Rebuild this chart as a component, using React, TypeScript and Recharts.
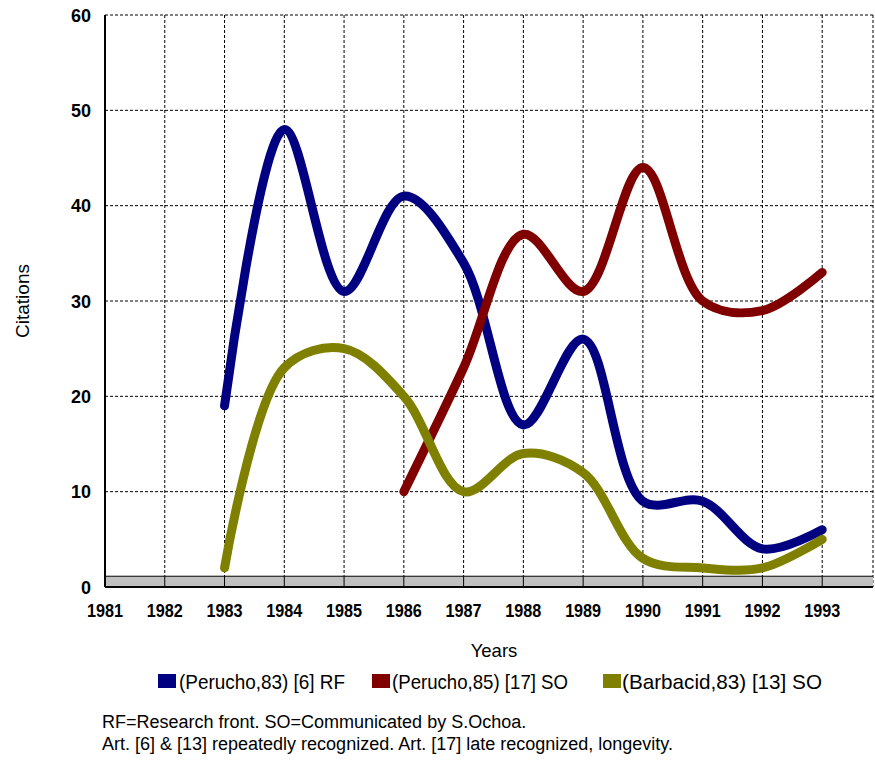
import React from 'react';
import {
  LineChart,
  Line,
  XAxis,
  YAxis,
  CartesianGrid,
  Legend,
  ReferenceArea,
  ReferenceLine,
} from 'recharts';

// ---- data ----
const years = [1981, 1982, 1983, 1984, 1985, 1986, 1987, 1988, 1989, 1990, 1991, 1992, 1993];
const perucho83 = [null, null, 19, 48, 31, 41, 34, 17, 26, 9, 9, 4, 6];
const perucho85 = [null, null, null, null, null, 10, 23, 37, 31, 44, 30, 29, 33];
const barbacid83 = [null, null, 2, 23, 25, 20, 10, 14, 12, 3, 2, 2, 5];
const yTicks = [0, 10, 20, 30, 40, 50, 60];
const seriesKeys = ['p83', 'p85', 'b83'];
const seriesNames = ['(Perucho,83) [6] RF', '(Perucho,85) [17] SO', '(Barbacid,83) [13] SO'];
const seriesColors = ['#000080', '#800000', '#808000'];
const noteLines = [
  'RF=Research front. SO=Communicated by S.Ochoa.',
  'Art. [6] & [13] repeatedly recognized. Art. [17] late recognized, longevity.',
];
const floorTop = 1.13;

const data = years.map((year, i) => ({
  year,
  p83: perucho83[i],
  p85: perucho85[i],
  b83: barbacid83[i],
}));

const FONT = '"Liberation Sans", Arial, Helvetica, sans-serif';

// Smoothed line: centripetal Catmull-Rom through the points
const smoothCurve: any = (context: any) => {
  let pts: number[][] = [];
  const alpha = 0.5;
  const dist = (a: number[], b: number[]) => Math.hypot(b[0] - a[0], b[1] - a[1]);
  return {
    areaStart() {},
    areaEnd() {},
    lineStart() {
      pts = [];
    },
    point(x: number, y: number) {
      pts.push([+x, +y]);
    },
    lineEnd() {
      const n = pts.length;
      if (!n) return;
      context.moveTo(pts[0][0], pts[0][1]);
      if (n === 1) {
        context.lineTo(pts[0][0], pts[0][1]);
        return;
      }
      for (let i = 0; i < n - 1; i++) {
        const p1 = pts[i];
        const p2 = pts[i + 1];
        const p0 = i > 0 ? pts[i - 1] : null;
        const p3 = i + 2 < n ? pts[i + 2] : null;
        const d12 = dist(p1, p2);
        const l12a = Math.pow(d12, alpha);
        const l122a = Math.pow(d12, 2 * alpha);
        let c1 = p1;
        let c2 = p2;
        if (p0) {
          const d01 = dist(p0, p1);
          const l01a = Math.pow(d01, alpha);
          const l012a = Math.pow(d01, 2 * alpha);
          if (l01a > 1e-9) {
            const a = 2 * l012a + 3 * l01a * l12a + l122a;
            const nn = 3 * l01a * (l01a + l12a);
            c1 = [
              (p1[0] * a - p0[0] * l122a + p2[0] * l012a) / nn,
              (p1[1] * a - p0[1] * l122a + p2[1] * l012a) / nn,
            ];
          }
        }
        if (p3) {
          const d23 = dist(p2, p3);
          const l23a = Math.pow(d23, alpha);
          const l232a = Math.pow(d23, 2 * alpha);
          if (l23a > 1e-9) {
            const b = 2 * l232a + 3 * l23a * l12a + l122a;
            const m = 3 * l23a * (l23a + l12a);
            c2 = [
              (p2[0] * b + p1[0] * l232a - p3[0] * l122a) / m,
              (p2[1] * b + p1[1] * l232a - p3[1] * l122a) / m,
            ];
          }
        }
        context.bezierCurveTo(c1[0], c1[1], c2[0], c2[1], p2[0], p2[1]);
      }
    },
  };
};

const XTick = (props: any) => {
  const { x, y, payload } = props;
  return (
    <text
      x={x}
      y={y + 30}
      textAnchor="middle"
      fontFamily={FONT}
      fontWeight="bold"
      fontSize={18}
      fill="#000"
      textLength={36}
      lengthAdjust="spacingAndGlyphs"
    >
      {payload.value}
    </text>
  );
};

const YTick = (props: any) => {
  const { x, y, payload } = props;
  return (
    <text
      x={x - 14}
      y={y + 6.5}
      textAnchor="end"
      fontFamily={FONT}
      fontWeight="bold"
      fontSize={18}
      fill="#000"
    >
      {payload.value}
    </text>
  );
};

const legendRectX = [158, 372, 603];
const legendTextX = [179, 392, 622];
const legendTextLen = [166, 176, 200];

const LegendContent = () => (
  <svg width={875} height={98} style={{ display: 'block' }}>
    {seriesNames.map((name, i) => (
      <g key={name}>
        <rect x={legendRectX[i]} y={9} width={18} height={14} fill={seriesColors[i]} />
        <text
          x={legendTextX[i]}
          y={24}
          fontFamily={FONT}
          fontSize={21}
          fill="#000"
          textLength={legendTextLen[i]}
          lengthAdjust="spacingAndGlyphs"
        >
          {name}
        </text>
      </g>
    ))}
    {noteLines.map((line, i) => (
      <text key={line} x={102} y={63 + i * 22} fontFamily={FONT} fontSize={18} fill="#000">
        {line}
      </text>
    ))}
  </svg>
);

export default function App() {
  return (
    <div style={{ position: 'absolute', left: 0, top: 0, width: 875, height: 763, background: '#fff' }}>
      <LineChart
        width={875}
        height={763}
        data={data}
        margin={{ top: 15, right: 2, left: 0, bottom: 0 }}
      >
        <CartesianGrid stroke="#000" strokeDasharray="3 2" strokeWidth={1} />
        <XAxis
          dataKey="year"
          type="number"
          domain={[1981, 1993.85]}
          ticks={years}
          interval={0}
          height={78}
          tickLine={false}
          tickSize={0}
          tickMargin={0}
          axisLine={{ stroke: '#000', strokeWidth: 2 }}
          tick={<XTick />}
          label={{
            value: 'Years',
            position: 'insideBottom',
            offset: 8,
            dx: 5,
            fontFamily: FONT,
            fontSize: 18.5,
            fill: '#000',
          }}
        />
        <YAxis
          type="number"
          domain={[0, 60]}
          ticks={yTicks}
          interval={0}
          width={105}
          tickLine={false}
          tickSize={0}
          tickMargin={0}
          axisLine={{ stroke: '#000', strokeWidth: 2 }}
          tick={<YTick />}
          label={{
            value: 'Citations',
            angle: -90,
            position: 'insideLeft',
            offset: 22,
            style: { textAnchor: 'middle' },
            fontFamily: FONT,
            fontSize: 19,
            fill: '#000',
          }}
        />
        <ReferenceArea
          x1={1981}
          x2={1993.85}
          y1={0}
          y2={floorTop}
          fill="#c0c0c0"
          fillOpacity={1}
          stroke="none"
        />
        <ReferenceLine y={floorTop} stroke="#000" strokeWidth={1} />
        {years.slice(1).map((yr) => (
          <ReferenceLine
            key={yr}
            segment={[
              { x: yr, y: 0 },
              { x: yr, y: floorTop },
            ]}
            stroke="#000"
            strokeWidth={1}
          />
        ))}
        {seriesKeys.map((k, i) => (
          <Line
            key={k}
            dataKey={k}
            name={seriesNames[i]}
            type={smoothCurve}
            stroke={seriesColors[i]}
            strokeWidth={9}
            strokeLinecap="round"
            strokeLinejoin="round"
            dot={false}
            activeDot={false}
            isAnimationActive={false}
          />
        ))}
        <Legend
          verticalAlign="bottom"
          content={<LegendContent />}
          wrapperStyle={{ left: 0, bottom: 0, width: 875, height: 98 }}
        />
      </LineChart>
    </div>
  );
}
